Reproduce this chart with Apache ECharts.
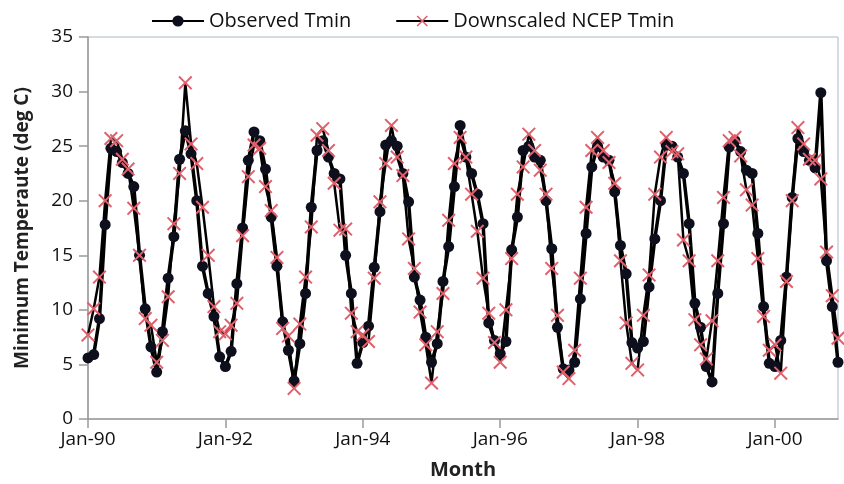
<!DOCTYPE html>
<html>
<head>
<meta charset="utf-8">
<script src="https://cdn.jsdelivr.net/npm/echarts@6/dist/echarts.min.js"></script>
<style>
  html, body { margin: 0; padding: 0; background: #fff; }
  #main { width: 844px; height: 484px; }
</style>
</head>
<body>
<div id="main"></div>
<script>
  var monthNames = ['Jan','Feb','Mar','Apr','May','Jun','Jul','Aug','Sep','Oct','Nov','Dec'];
  var yearLabels = ['90','91','92','93','94','95','96','97','98','99','00'];

  // observed monthly Tmin, Jan-90 .. Dec-00
  var observedTmin = [
    5.6, 5.9, 9.2, 17.8, 24.8, 24.5, 23.5, 22.5, 21.3, 15.0, 10.1, 6.6,
    4.3, 8.0, 12.9, 16.7, 23.8, 26.4, 24.3, 20.0, 14.0, 11.5, 9.4, 5.7,
    4.8, 6.2, 12.4, 17.5, 23.7, 26.3, 25.5, 22.9, 18.5, 14.0, 8.9, 6.3,
    3.5, 6.9, 11.5, 19.4, 24.6, 25.5, 24.0, 22.5, 22.0, 15.0, 11.5, 5.1,
    7.0, 8.5, 13.9, 19.0, 25.1, 25.5, 25.0, 22.5, 19.9, 13.0, 10.9, 7.5,
    5.2, 6.9, 12.6, 15.8, 21.3, 26.9, 24.0, 22.5, 20.6, 17.9, 8.8, 7.2,
    6.0, 7.1, 15.5, 18.5, 24.6, 25.0, 24.0, 23.7, 20.0, 15.6, 8.4, 4.6,
    4.5, 5.2, 11.0, 17.0, 23.1, 25.0, 24.0, 23.7, 20.8, 15.9, 13.3, 7.0,
    6.5, 7.1, 12.1, 16.5, 20.0, 25.1, 25.0, 24.0, 22.5, 17.9, 10.6, 8.4,
    4.8, 3.4, 11.5, 17.9, 24.9, 25.5, 24.5, 22.8, 22.5, 17.0, 10.3, 5.1,
    4.8, 7.2, 13.0, 20.3, 25.7, 24.5, 23.7, 23.0, 29.9, 14.5, 10.3, 5.2
  ];

  // downscaled NCEP monthly Tmin
  var downscaledTmin = [
    7.7, 10.1, 13.0, 20.0, 25.7, 25.5, 23.8, 22.9, 19.3, 15.0, 9.2, 8.6,
    5.2, 7.2, 11.2, 17.9, 22.5, 30.8, 25.2, 23.4, 19.4, 15.0, 10.3, 8.0,
    7.8, 8.6, 10.6, 16.8, 22.2, 25.1, 24.8, 21.3, 19.1, 14.8, 8.3, 7.6,
    2.8, 8.7, 13.0, 17.6, 26.0, 26.6, 24.6, 21.6, 17.3, 17.4, 9.7, 8.0,
    7.7, 7.1, 12.9, 19.9, 23.4, 26.9, 24.0, 22.3, 16.5, 13.8, 9.8, 6.8,
    3.3, 8.0, 11.5, 18.2, 23.4, 25.8, 24.0, 20.6, 17.2, 12.9, 9.7, 7.0,
    5.2, 10.0, 14.7, 20.6, 23.1, 26.1, 24.6, 22.8, 20.6, 13.8, 9.5, 4.3,
    3.7, 6.3, 12.9, 19.4, 24.6, 25.8, 24.6, 23.5, 21.6, 14.5, 8.8, 5.1,
    4.5, 9.5, 13.2, 20.6, 24.0, 25.8, 24.5, 24.3, 16.4, 14.5, 9.1, 6.8,
    5.5, 9.0, 14.5, 20.3, 25.5, 25.8, 24.1, 21.0, 19.6, 14.7, 9.4, 6.3,
    6.8, 4.2, 12.6, 20.0, 26.7, 25.2, 23.8, 23.7, 22.0, 15.3, 11.3, 7.4
  ];

  var months = [];
  yearLabels.forEach(function (y) {
    monthNames.forEach(function (m) { months.push(m + '-' + y); });
  });

  var crossPath = 'path://M0,1L1,0L5,4L9,0L10,1L6,5L10,9L9,10L5,6L1,10L0,9L4,5Z';
  var font = 'Open Sans, sans-serif';

  var option = {
    animation: false,
    textStyle: { fontFamily: font },
    legend: {
      top: 6,
      left: 146,
      itemWidth: 52,
      itemHeight: 14,
      itemGap: 44,
      textStyle: { fontSize: 20, color: '#111', fontFamily: font },
      data: ['Observed Tmin', 'Downscaled NCEP Tmin']
    },
    grid: {
      left: 88, right: 6, top: 37, bottom: 65,
      outerBoundsMode: 'none',
      show: true,
      borderColor: '#a9b8c8',
      borderWidth: 1
    },
    xAxis: {
      type: 'category',
      boundaryGap: false,
      data: months,
      name: 'Month',
      nameLocation: 'middle',
      nameGap: 41,
      nameTextStyle: { fontSize: 20, fontWeight: 'bold', color: '#222', fontFamily: font },
      axisLine: { lineStyle: { color: '#9a9a9a', width: 1.5 } },
      axisTick: { interval: 23, length: 9, lineStyle: { color: '#9a9a9a', width: 1.5 } },
      axisLabel: { interval: 23, fontSize: 19, color: '#111', margin: 11 },
      splitLine: { show: false }
    },
    yAxis: {
      type: 'value',
      min: 0, max: 35, interval: 5,
      name: 'Minimum Temperaute (deg C)',
      nameLocation: 'middle',
      nameGap: 56,
      nameTextStyle: { fontSize: 19, fontWeight: 'bold', color: '#222', fontFamily: font },
      axisLine: { show: true, lineStyle: { color: '#9a9a9a', width: 1.5 } },
      axisTick: { show: true, length: 9, lineStyle: { color: '#9a9a9a', width: 1.5 } },
      axisLabel: { fontSize: 19, color: '#111', margin: 15 },
      splitLine: { show: false }
    },
    series: [
      {
        name: 'Observed Tmin',
        type: 'line',
        data: observedTmin,
        symbol: 'circle',
        symbolSize: 11,
        showAllSymbol: true,
        itemStyle: { color: '#0d0f1c' },
        lineStyle: { color: '#000', width: 3.5 }
      },
      {
        name: 'Downscaled NCEP Tmin',
        type: 'line',
        data: downscaledTmin,
        symbol: crossPath,
        symbolSize: 14,
        showAllSymbol: true,
        itemStyle: { color: '#e0606c' },
        lineStyle: { color: '#000', width: 2.5 }
      }
    ]
  };

  var chart = echarts.init(document.getElementById('main'));
  chart.setOption(option);
</script>
</body>
</html>
